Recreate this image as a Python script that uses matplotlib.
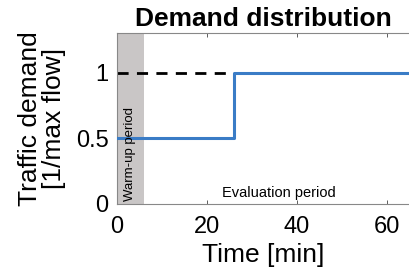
import matplotlib
matplotlib.use('Agg')
import matplotlib.pyplot as plt

plt.rcParams['font.family'] = ['Liberation Sans', 'DejaVu Sans']

# demand profile (step)
time_min = [0, 26, 26, 65]
demand = [0.5, 0.5, 1.0, 1.0]
# reference demand (dashed)
ref_time = [0, 26]
ref_demand = [1.0, 1.0]
warmup_end = 6
xticks = [0, 20, 40, 60]
yticks = [0, 0.5, 1]
yticklabels = ['0', '0.5', '1']

fig = plt.figure(figsize=(4.09, 2.76), dpi=100)
ax = fig.add_axes([0.286, 0.261, 0.714, 0.619])

ax.axvspan(0, warmup_end, color='#c9c6c6', zorder=0, lw=0)
ax.plot(ref_time, ref_demand, color='black', ls=(0, (4, 3)), lw=2, zorder=2)
ax.plot(time_min, demand, color='#3a7cc6', lw=2.2, zorder=3)

ax.text(warmup_end / 2, 0.02, 'Warm-up period', rotation=90, fontsize=9.5,
        ha='center', va='bottom')
ax.text(36, 0.03, 'Evaluation period', fontsize=10.5, ha='center', va='bottom')

ax.set_xlim(0, 65)
ax.set_ylim(0, 1.3)
ax.set_xticks(xticks)
ax.set_yticks(yticks)
ax.set_yticklabels(yticklabels)
ax.tick_params(direction='in', length=3, labelsize=17, top=True, width=0.6,
               color='#444444')
ax.tick_params(axis='x', pad=9)
ax.tick_params(axis='y', pad=6)
for s in ['left', 'bottom', 'top']:
    ax.spines[s].set_color('#888888')
    ax.spines[s].set_linewidth(0.8)
ax.spines['right'].set_visible(False)

ax.set_title('Demand distribution', fontsize=19, fontweight='bold', pad=5)
ax.set_xlabel('Time [min]', fontsize=19, labelpad=3)
ax.set_ylabel('Traffic demand\n[1/max flow]', fontsize=19, labelpad=7,
              linespacing=1.0)

fig.savefig('out.png', dpi=100)
